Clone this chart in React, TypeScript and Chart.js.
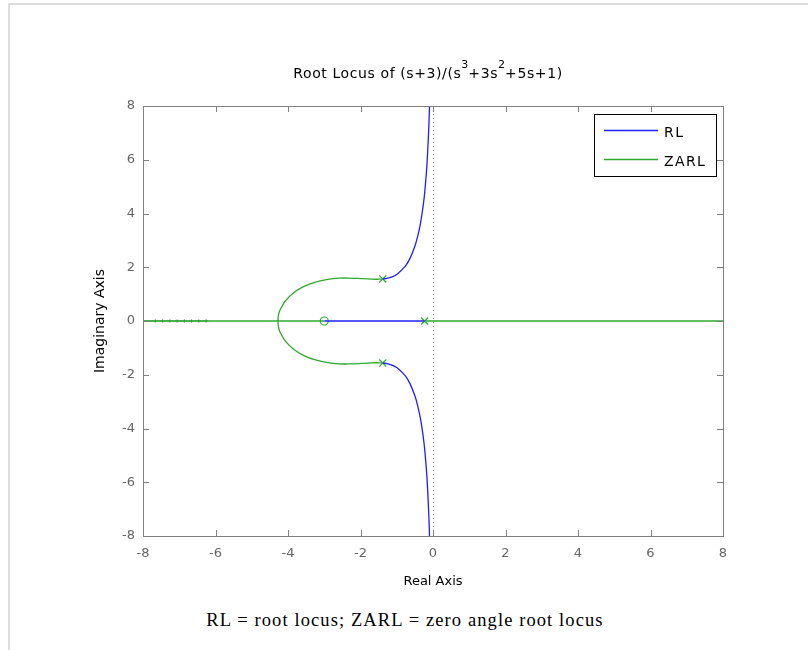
import React, { useEffect, useRef } from "react";
import { Chart, registerables } from "chart.js";

Chart.register(...registerables);

// ---- tick values ----
const xTicks = [-8, -6, -4, -2, 0, 2, 4, 6, 8];
const yTicks = [-8, -6, -4, -2, 0, 2, 4, 6, 8];

// ---- RL (root locus, K >= 0) ----
const rlUpperRe = [-1.3855, -1.348, -1.27, -1.149, -1.0, -0.763, -0.638, -0.5, -0.42, -0.344, -0.269, -0.222, -0.166, -0.122, -0.096, -0.087];
const rlUpperIm = [1.5638, 1.57, 1.587, 1.633, 1.732, 2.042, 2.322, 2.784, 3.164, 3.646, 4.313, 4.88, 5.838, 7.023, 8.028, 9.2];
const rlLowerRe = [-1.3855, -1.348, -1.27, -1.149, -1.0, -0.763, -0.638, -0.5, -0.42, -0.344, -0.269, -0.222, -0.166, -0.122, -0.096, -0.087];
const rlLowerIm = [-1.5638, -1.57, -1.587, -1.633, -1.732, -2.042, -2.322, -2.784, -3.164, -3.646, -4.313, -4.88, -5.838, -7.023, -8.028, -9.2];
const rlRealRe = [-3, -0.2291];
const rlRealIm = [0, 0];

// ---- ZARL (zero angle root locus, K <= 0) ----
const zarlUpperRe = [-1.3855, -1.489, -1.552, -1.689, -1.909, -2.083, -2.361, -2.585, -2.864, -3.243, -3.56, -3.836, -4.084, -4.223, -4.25, -4.27, -4.279];
const zarlUpperIm = [1.5638, 1.555, 1.554, 1.558, 1.574, 1.587, 1.599, 1.592, 1.557, 1.449, 1.286, 1.061, 0.733, 0.4, 0.29, 0.15, 0];
const zarlLowerRe = [-1.3855, -1.489, -1.552, -1.689, -1.909, -2.083, -2.361, -2.585, -2.864, -3.243, -3.56, -3.836, -4.084, -4.223, -4.25, -4.27, -4.279];
const zarlLowerIm = [-1.5638, -1.555, -1.554, -1.558, -1.574, -1.587, -1.599, -1.592, -1.557, -1.449, -1.286, -1.061, -0.733, -0.4, -0.29, -0.15, 0];
const zarlLeftRe = [-8, -3];
const zarlLeftIm = [0, 0];
const zarlRightRe = [-0.2291, 8];
const zarlRightIm = [0, 0];
const zarlTailRe = [-8, -6.2];
const zarlTailIm = [0, 0];
const zarlSampleRe = [-7.66, -7.46, -7.26, -7.06, -6.86, -6.66, -6.46, -6.26];
const zarlSampleIm = [0, 0, 0, 0, 0, 0, 0, 0];

// ---- poles and zero ----
const poleRe = [-1.3855, -1.3855, -0.2291];
const poleIm = [1.5638, -1.5638, 0];
const zeroRe = [-3];
const zeroIm = [0];

const legendLabels = ["RL", "ZARL"];

const BLUE = "#1f1fff";
const GREEN = "#2ea82e";
const FONT = "DejaVu Sans";

const pts = (xs: number[], ys: number[]) => xs.map((x, i) => ({ x, y: ys[i] }));

const lineDs = (xs: number[], ys: number[], color: string, width = 1.3) => ({
  data: pts(xs, ys),
  showLine: true,
  borderColor: color,
  backgroundColor: color,
  borderWidth: width,
  pointRadius: 0,
  tension: 0.25,
});

const framePlugin = {
  id: "matlabFrame",
  beforeDatasetsDraw(chart: any) {
    const { ctx, chartArea, scales } = chart;
    const x0 = Math.round(scales.x.getPixelForValue(0)) + 0.5;
    ctx.save();
    ctx.strokeStyle = "#888";
    ctx.lineWidth = 1;
    ctx.setLineDash([1, 3]);
    ctx.beginPath();
    ctx.moveTo(x0, chartArea.top);
    ctx.lineTo(x0, chartArea.bottom);
    ctx.stroke();
    ctx.restore();
  },
  afterDraw(chart: any) {
    const { ctx, chartArea, scales } = chart;
    const { left, right, top, bottom } = chartArea;
    ctx.save();
    // box
    ctx.strokeStyle = "#808080";
    ctx.lineWidth = 1;
    ctx.strokeRect(Math.round(left) + 0.5, Math.round(top) + 0.5, Math.round(right - left), Math.round(bottom - top));
    // inward ticks
    const tl = 6;
    ctx.beginPath();
    xTicks.forEach((v) => {
      const px = Math.round(scales.x.getPixelForValue(v)) + 0.5;
      ctx.moveTo(px, bottom);
      ctx.lineTo(px, bottom - tl);
      ctx.moveTo(px, top);
      ctx.lineTo(px, top + tl);
    });
    yTicks.forEach((v) => {
      const py = Math.round(scales.y.getPixelForValue(v)) + 0.5;
      ctx.moveTo(left, py);
      ctx.lineTo(left + tl, py);
      ctx.moveTo(right, py);
      ctx.lineTo(right - tl, py);
    });
    ctx.stroke();

    // legend
    const lx = 594.5, ly = 114.5, lw = 122, lh = 62;
    ctx.fillStyle = "#fff";
    ctx.fillRect(lx, ly, lw, lh);
    ctx.strokeStyle = "#000";
    ctx.strokeRect(lx, ly, lw, lh);
    const rows = [
      { y: 130.5, ty: 133.5, color: BLUE, label: legendLabels[0] },
      { y: 159.5, ty: 162, color: GREEN, label: legendLabels[1] },
    ];
    rows.forEach((r) => {
      ctx.strokeStyle = r.color;
      ctx.lineWidth = 1.3;
      ctx.beginPath();
      ctx.moveTo(604, r.y);
      ctx.lineTo(658, r.y);
      ctx.stroke();
      ctx.fillStyle = "#000";
      ctx.font = `14px '${FONT}'`;
      ctx.textBaseline = "middle";
      ctx.textAlign = "left";
      (ctx as any).letterSpacing = "1.4px";
      ctx.fillText(r.label, 664, r.ty);
      (ctx as any).letterSpacing = "0px";
    });

    // title with superscripts
    const segs: [string, boolean][] = [
      ["Root Locus of (s+3)/(s", false],
      ["3", true],
      ["+3s", false],
      ["2", true],
      ["+5s+1)", false],
    ];
    const baseFont = `14px '${FONT}'`;
    const supFont = `11px '${FONT}'`;
    let total = 0;
    segs.forEach(([t, sup]) => {
      ctx.font = sup ? supFont : baseFont;
      (ctx as any).letterSpacing = sup ? "0px" : "0.6px";
      total += ctx.measureText(t).width;
    });
    let cx = 428 - total / 2;
    const baseY = 78;
    ctx.fillStyle = "#000";
    ctx.textBaseline = "alphabetic";
    ctx.textAlign = "left";
    segs.forEach(([t, sup]) => {
      ctx.font = sup ? supFont : baseFont;
      (ctx as any).letterSpacing = sup ? "0px" : "0.6px";
      ctx.fillText(t, cx, sup ? baseY - 10 : baseY);
      cx += ctx.measureText(t).width;
    });
    (ctx as any).letterSpacing = "0px";
    ctx.restore();
  },
};

export default function App() {
  const canvasRef = useRef<HTMLCanvasElement | null>(null);

  useEffect(() => {
    if (!canvasRef.current) return;
    const chart = new Chart(canvasRef.current, {
      type: "scatter",
      data: {
        datasets: [
          lineDs(zarlLeftRe, zarlLeftIm, GREEN),
          lineDs(zarlRightRe, zarlRightIm, GREEN),
          lineDs(zarlUpperRe, zarlUpperIm, GREEN),
          lineDs(zarlLowerRe, zarlLowerIm, GREEN),
          lineDs(zarlTailRe, zarlTailIm, "#3b8a3b", 1),
          {
            data: pts(zarlSampleRe, zarlSampleIm),
            showLine: false,
            pointStyle: "line",
            rotation: 90,
            pointRadius: 1.5,
            borderWidth: 1,
            borderColor: "#4a5a4a",
            backgroundColor: "#4a5a4a",
          },
          lineDs(rlRealRe, rlRealIm, BLUE),
          lineDs(rlUpperRe, rlUpperIm, BLUE),
          lineDs(rlLowerRe, rlLowerIm, BLUE),
          {
            data: pts(poleRe, poleIm),
            showLine: false,
            pointStyle: "crossRot",
            pointRadius: 5,
            borderWidth: 1.2,
            borderColor: GREEN,
            backgroundColor: GREEN,
          },
          {
            data: pts(zeroRe, zeroIm),
            showLine: false,
            pointStyle: "circle",
            pointRadius: 4,
            borderWidth: 1.2,
            borderColor: GREEN,
            backgroundColor: "rgba(0,0,0,0)",
          },
        ] as any,
      },
      options: {
        animation: false,
        responsive: false,
        events: [],
        layout: { padding: { left: 0, right: 85, top: 106, bottom: 0 } },
        plugins: {
          legend: { display: false },
          tooltip: { enabled: false },
          title: { display: false },
        },
        scales: {
          x: {
            type: "linear",
            min: -8,
            max: 8,
            afterBuildTicks: (s: any) => {
              s.ticks = xTicks.map((v) => ({ value: v }));
            },
            afterFit: (s: any) => {
              s.height = 64;
            },
            grid: { display: false, drawTicks: false },
            border: { display: false },
            ticks: {
              padding: 10,
              color: "#666",
              font: { family: FONT, size: 13 },
              callback: (v: any) => String(v),
            },
            title: {
              display: true,
              text: "Real Axis",
              color: "#000",
              font: { family: FONT, size: 13 },
              padding: { top: 0, bottom: 11 },
            },
          },
          y: {
            type: "linear",
            min: -8,
            max: 8,
            afterBuildTicks: (s: any) => {
              s.ticks = yTicks.map((v) => ({ value: v }));
            },
            afterFit: (s: any) => {
              s.width = 143;
            },
            grid: { display: false, drawTicks: false },
            border: { display: false },
            ticks: {
              padding: 8,
              color: "#666",
              font: { family: FONT, size: 13 },
              callback: (v: any) => String(v),
            },
            title: {
              display: true,
              text: "Imaginary Axis",
              color: "#000",
              font: { family: FONT, size: 14 },
              padding: { top: 92, bottom: 0 },
            },
          },
        },
      } as any,
      plugins: [framePlugin],
    });
    return () => chart.destroy();
  }, []);

  return (
    <div>
      <div
        style={{
          position: "absolute",
          left: 8,
          top: 3,
          width: 800,
          height: 647,
          boxSizing: "border-box",
          borderLeft: "2px solid #dcdcdc",
          borderTop: "2px solid #dcdcdc",
        }}
      />
      <canvas
        ref={canvasRef}
        width={808}
        height={600}
        style={{ position: "absolute", left: 0, top: 0, width: 808, height: 600, display: "block" }}
      />
      <div
        style={{
          position: "absolute",
          left: 8,
          top: 610,
          width: 794,
          textAlign: "center",
          fontFamily: "'Liberation Serif', serif",
          fontSize: 18.5,
          letterSpacing: "1.1px",
          lineHeight: "20px",
          color: "#000",
        }}
      >
        RL = root locus; ZARL = zero angle root locus
      </div>
    </div>
  );
}
